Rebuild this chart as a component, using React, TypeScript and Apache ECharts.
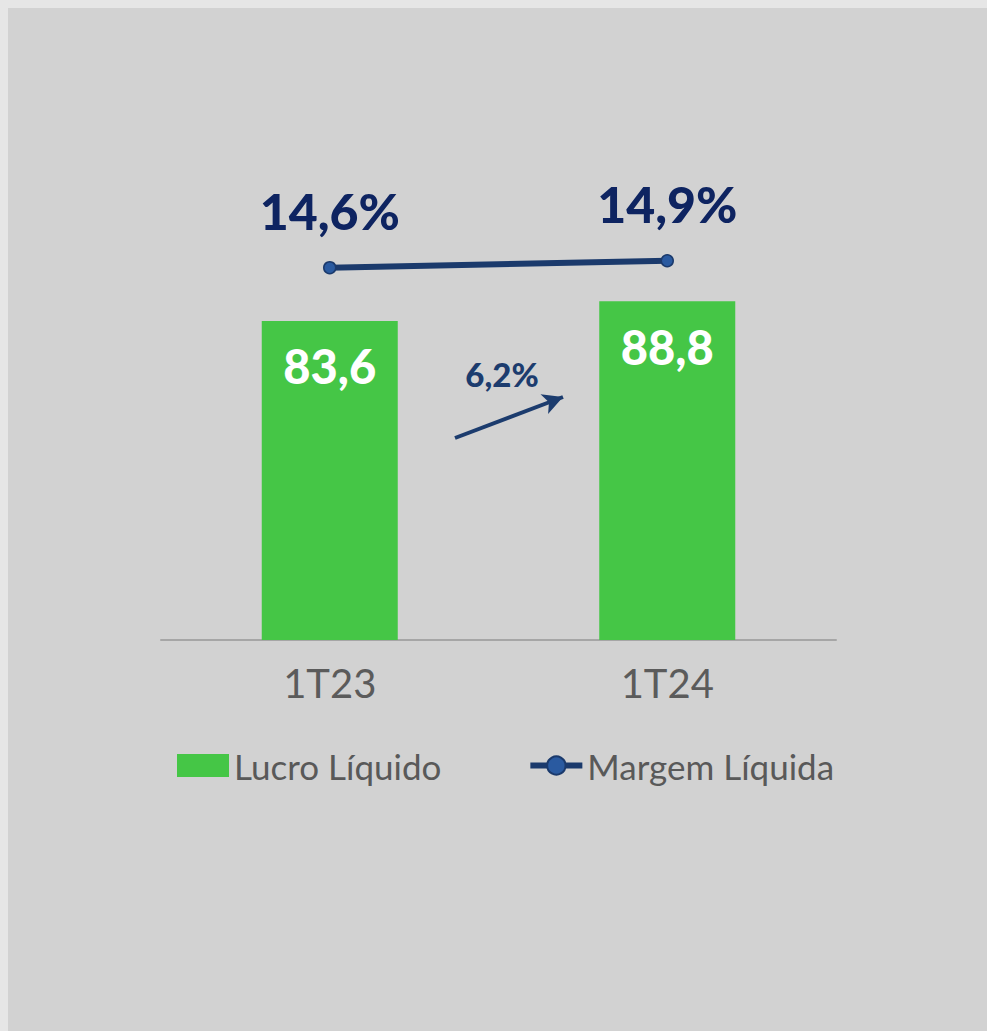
import React, { useEffect, useRef } from "react";
import * as echarts from "echarts";

const categories = ["1T23", "1T24"];
const lucroLiquido = [83.6, 88.8];
const margemLiquida = [14.6, 14.9];
const lucroLabels = ["83,6", "88,8"];
const margemLabels = ["14,6%", "14,9%"];
const growthLabel = "6,2%";

const FONT = "Lato, 'Open Sans', sans-serif";

export default function App() {
  const ref = useRef<HTMLDivElement>(null);
  useEffect(() => {
    document.body.style.background = "#e6e6e6";
    document.body.style.margin = "8px 0 0 8px";
    document.documentElement.style.overflow = "hidden";
    const chart = echarts.init(ref.current!, null, { renderer: "svg" });
    chart.setOption({
      animation: false,
      backgroundColor: "#d2d2d2",
      textStyle: { fontFamily: FONT },
      grid: { left: 153, right: 151, top: 250.4, bottom: 391, containLabel: false },
      legend: {
        left: 164,
        top: 735,
        itemWidth: 52,
        itemHeight: 23,
        itemGap: 86,
        textStyle: { fontSize: 35, color: "#595959", fontFamily: FONT },
        data: [
          { name: "Lucro Líquido", icon: "rect" },
          { name: "Margem Líquida", lineStyle: { width: 6, color: "#1b3a6c" } },
        ],
      },
      xAxis: {
        type: "category",
        data: categories,
        axisLine: { lineStyle: { color: "#a6a6a6", width: 2 } },
        axisTick: { show: false },
        axisLabel: { fontSize: 40, color: "#5b5b5b", margin: 23, fontFamily: FONT },
      },
      yAxis: [
        { type: "value", min: 0, max: 100, show: false, splitLine: { show: false } },
        { type: "value", min: -1.4, max: 15, show: false, splitLine: { show: false } },
      ],
      series: [
        {
          name: "Lucro Líquido",
          type: "bar",
          data: lucroLiquido,
          barWidth: 136,
          itemStyle: { color: "#45c646" },
          label: {
            show: true,
            position: "insideTop",
            distance: 22,
            fontSize: 47,
            fontWeight: 900,
            color: "#ffffff",
            fontFamily: FONT,
            formatter: (p: any) => lucroLabels[p.dataIndex],
          },
          markLine: {
            silent: true,
            symbol: ["none", "arrow"],
            symbolSize: [16, 20],
            lineStyle: { color: "#1c3c6e", width: 4, type: "solid" },
            label: { show: false },
            data: [[{ x: 447, y: 430 }, { x: 555, y: 389 }]],
          },
        },
        {
          name: "Margem Líquida",
          type: "line",
          yAxisIndex: 1,
          data: margemLiquida,
          symbol: "circle",
          symbolSize: 12,
          lineStyle: { color: "#1b3a6c", width: 6 },
          itemStyle: { color: "#2a5aa0", borderColor: "#1b3a6c", borderWidth: 1.5 },
          label: {
            show: true,
            position: "top",
            distance: 25,
            fontSize: 50,
            fontWeight: 900,
            color: "#0e2461",
            fontFamily: FONT,
            formatter: (p: any) => margemLabels[p.dataIndex],
          },
        },
      ],
      graphic: [
        {
          type: "text",
          x: 494,
          y: 366,
          style: {
            text: growthLabel,
            fontSize: 33,
            fontWeight: 900,
            fill: "#1c3c6e",
            fontFamily: FONT,
            align: "center",
            verticalAlign: "middle",
          },
        },
      ],
    });
    return () => chart.dispose();
  }, []);
  return <div ref={ref} style={{ width: 979, height: 1023 }} />;
}
